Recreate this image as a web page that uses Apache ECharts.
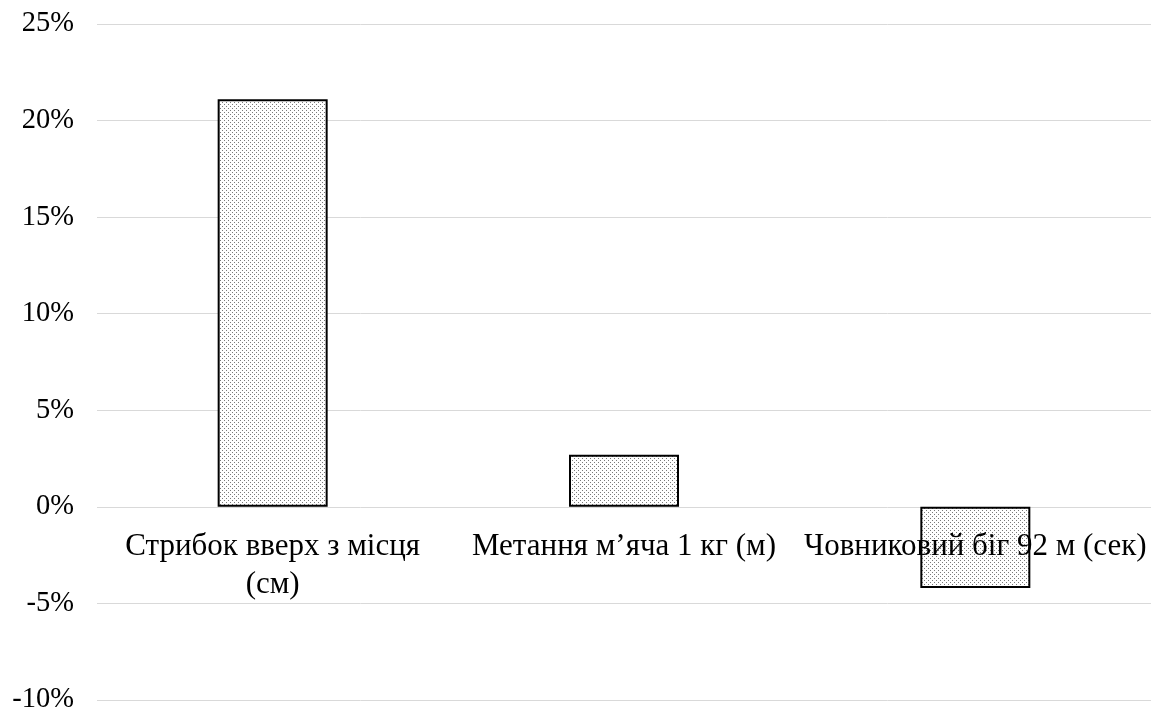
<!DOCTYPE html>
<html><head><meta charset="utf-8">
<script src="https://cdn.jsdelivr.net/npm/echarts@6/dist/echarts.min.js"></script>
<style>html,body{margin:0;padding:0;background:#fff}#c{width:1155px;height:713px}</style>
</head><body><div id="c"></div>
<script>
const categories = ["Стрибок вверх з місця (см)", "Метання м’яча 1 кг (м)", "Човниковий біг 92 м (сек)"];
const values = [21.1, 2.7, -4.2];
const yMin = -10, yMax = 25, yStep = 5;

const tile = document.createElement('canvas');
tile.width = 4; tile.height = 4;
const g = tile.getContext('2d');
g.fillStyle = '#ffffff'; g.fillRect(0,0,4,4);
g.fillStyle = '#7a7a7a';
g.fillRect(0,0,1,1); g.fillRect(2,2,1,1);

const chart = echarts.init(document.getElementById('c'));
const grid = {left:97,right:4,top:24,bottom:13,containLabel:false,outerBoundsMode:'none'};
chart.setOption({
  animation:false,
  backgroundColor:'#fff',
  grid:grid,
  xAxis:{type:'category',data:categories,z:5,
    axisLine:{show:false,onZero:false},
    axisTick:{show:false},
    axisLabel:{interval:0,margin:21,color:'#000',fontFamily:'Liberation Serif',fontSize:31,lineHeight:38,
      formatter:v=>v.replace(' (см)','\n(см)')}
  },
  yAxis:{type:'value',min:yMin,max:yMax,interval:yStep,
    axisLine:{show:false},axisTick:{show:false},
    splitLine:{lineStyle:{color:'#d9d9d9',width:1}},
    axisLabel:{margin:23,color:'#000',fontFamily:'Liberation Serif',fontSize:28.5,formatter:v=>v+'%'}
  },
  series:[{type:'bar',data:values,barWidth:110,z:2,
    itemStyle:{color:{image:tile,repeat:'repeat'},borderColor:'#000',borderWidth:2}
  }]
});
const y0 = chart.convertToPixel({yAxisIndex:0}, 0);
const yBottom = chart.convertToPixel({yAxisIndex:0}, yMin);
chart.setOption({xAxis:{offset:-(yBottom - y0)}});
</script></body></html>
